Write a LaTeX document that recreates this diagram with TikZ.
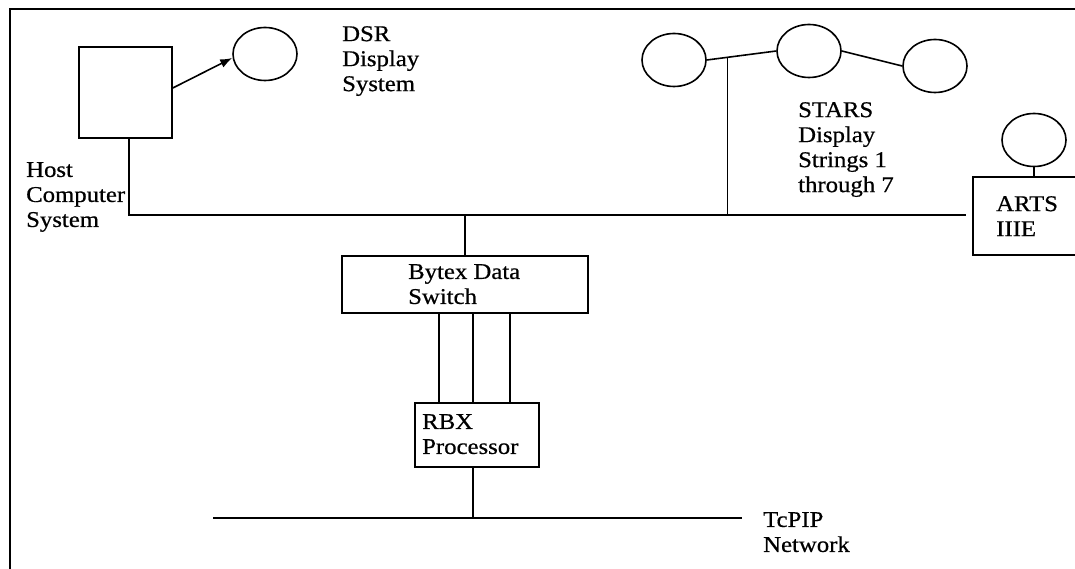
\documentclass[tikz,border=0pt]{standalone}
\usepackage{fontspec}
\setmainfont[FakeStretch=1.1,FakeBold=0.6]{Liberation Serif}
\usetikzlibrary{shapes.geometric,arrows.meta,calc}
\tikzset{
  ln/.style={line width=1.6pt},
  disp/.style={ellipse,draw,line width=1.6pt,minimum width=64pt,minimum height=53pt,inner sep=0pt},
  boxn/.style={rectangle,draw,line width=1.6pt,inner sep=0pt},
  lbl/.style={anchor=north west,inner sep=0pt,align=left,font=\fontsize{22.5pt}{25pt}\selectfont}
}
\begin{document}
\begin{tikzpicture}[x=1pt,y=-1pt]
\clip (0,0) rectangle (1075,569);
\fill[white] (0,0) rectangle (1075,569);
% frame
\coordinate (fTL) at (10,9);
\coordinate (fTR) at (1080,9);
\coordinate (fBL) at (10,575);
\draw[ln] (fBL) -- (fTL) -- (fTR);
% host
\node[boxn,minimum width=93pt,minimum height=91pt] (host) at (125.5,92.5) {};
\node[disp] (dsr) at (265,54) {};
\draw[ln,-{Latex[length=12pt,width=9pt]}] (host.east |- 0,88) -- (dsr.west |- 0,58);
\node[lbl] (dsrl) at (342,26) {DSR\\Display\\System};
\node[lbl] (hostl) at (26,162) {Host\\Computer\\System};
% bus
\coordinate (busL) at (129,215);
\coordinate (busR) at (966,215);
\draw[ln] (host.south -| busL) -- (busL) -- (busR);
% STARS
\node[disp] (c1) at (674,60) {};
\node[disp] (c2) at (809,51) {};
\node[disp] (c3) at (935,66) {};
\draw[ln] (c1.east) -- (c2.west);
\draw[ln] (c2.east) -- (c3.west);
\coordinate (j) at ($(c1.east)!0.3!(c2.west)$);
\draw[ln] (j) -- (j |- busR);
\node[lbl] (starsl) at (798,102) {STARS\\Display\\Strings 1\\through 7};
% ARTS
\node[boxn,minimum width=115pt,minimum height=78pt] (arts) at (1030.5,216) {};
\node[lbl] (artsl) at (996,196) {ARTS\\IIIE};
\node[disp] (ac) at (1034,140) {};
\draw[ln] (ac.south) -- (ac.south |- arts.north);
% Bytex
\node[boxn,minimum width=246pt,minimum height=57pt] (bytex) at (465,284.5) {};
\node[lbl] (bytexl) at (408,264) {Bytex Data\\Switch};
\draw[ln] (bytex.north |- busR) -- (bytex.north);
% RBX
\node[boxn,minimum width=124pt,minimum height=64pt] (rbx) at (477,435) {};
\node[lbl] (rbxl) at (422,414) {RBX\\Processor};
\foreach \xx in {439,473,510} {
  \draw[ln] (bytex.south -| \xx,0) -- (rbx.north -| \xx,0);
}
% TcPIP
\coordinate (tL) at (213,518);
\coordinate (tR) at (742,518);
\draw[ln] (tL) -- (tR);
\draw[ln] (rbx.south -| 473,0) -- (tL -| 473,0);
\node[lbl] (tcpl) at (763,512) {TcPIP\\Network};
\end{tikzpicture}
\end{document}
